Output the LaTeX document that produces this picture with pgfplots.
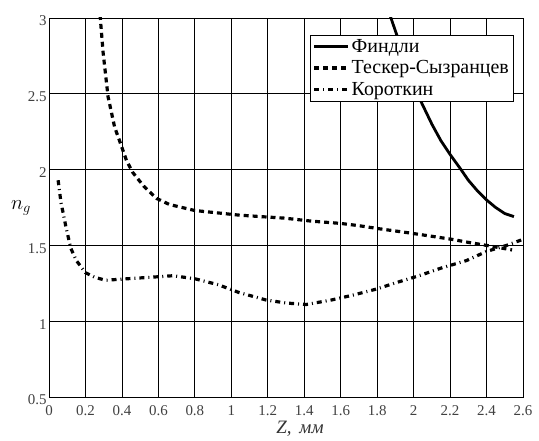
\documentclass[border=0pt]{standalone}
\usepackage{pgfplots}
\pgfplotsset{compat=1.18}
\usepackage{fontspec}
\setmainfont{Liberation Serif}
\begin{document}
\begin{tikzpicture}
\begin{axis}[
  name=ax,
  scale only axis,
  width=474bp, height=379bp,
  xmin=0, xmax=2.6, ymin=0.5, ymax=3,
  xtick={0,0.2,...,2.6},
  ytick={0.5,1,...,3},
  xticklabels={0,0.2,0.4,0.6,0.8,1,1.2,1.4,1.6,1.8,2,2.2,2.4,2.6},
  yticklabels={0.5,1,1.5,2,2.5,3},
  grid=major,
  major grid style={black, line width=0.7pt},
  axis line style={black, line width=0.9pt},
  major tick length=0pt,
  tick label style={font=\fontsize{15}{16}\selectfont, text=black!75},
  /pgf/number format/assume math mode=true,
  xticklabel style={yshift=-5pt},
  yticklabel style={xshift=1pt, yshift=-3pt},
  xlabel={\textit{Z,\, мм}},
  xlabel style={font=\fontsize{19}{20}\selectfont, yshift=1pt, xshift=14pt, text=black!80},
  ylabel={$n_g$},
  ylabel style={rotate=-90, font=\fontsize{20}{21}\selectfont, xshift=10pt},
  legend style={at={(0.979,0.955)}, anchor=north east, draw=black,
    font=\fontsize{20}{22}\selectfont, inner sep=2pt, row sep=3pt,
    legend cell align=left},
  legend image code/.code={\draw[#1] (0cm,0cm) -- (1.2cm,0cm);},
  clip=true,
]
\addplot[black, line width=2.8pt] coordinates {
(1.87,3.02) (1.91,2.88) (1.95,2.75) (2.00,2.58) (2.04,2.45) (2.10,2.30) (2.15,2.19)
(2.20,2.10) (2.26,2.00) (2.30,1.93) (2.35,1.86) (2.40,1.80) (2.45,1.75) (2.50,1.71) (2.55,1.69)
};
\addlegendentry{Финдли}
\addplot[black, line width=3.2pt, dash pattern=on 5pt off 4pt] coordinates {
(0.28,3.02) (0.297,2.77) (0.324,2.48) (0.36,2.28) (0.39,2.18) (0.425,2.06) (0.46,1.98)
(0.52,1.89) (0.59,1.81) (0.66,1.77) (0.73,1.75) (0.80,1.73) (0.92,1.715) (1.04,1.70)
(1.16,1.69) (1.29,1.68) (1.44,1.66) (1.60,1.645) (1.70,1.63) (1.81,1.61) (1.99,1.58)
(2.10,1.56) (2.21,1.54) (2.30,1.52) (2.40,1.50) (2.54,1.47)
};
\addlegendentry{Тескер-Сызранцев}
\addplot[black, line width=3.2pt, dash pattern=on 5pt off 4pt on 1pt off 4pt] coordinates {
(0.05,1.93) (0.066,1.78) (0.08,1.70) (0.093,1.62) (0.12,1.48) (0.15,1.40) (0.20,1.32)
(0.25,1.29) (0.31,1.27) (0.43,1.28) (0.56,1.29) (0.68,1.30) (0.80,1.28) (0.93,1.24)
(1.04,1.19) (1.19,1.14) (1.30,1.12) (1.41,1.11) (1.55,1.14) (1.66,1.17) (1.79,1.21)
(1.92,1.26) (2.03,1.30) (2.15,1.35) (2.29,1.40) (2.40,1.46) (2.51,1.50) (2.60,1.54)
};
\addlegendentry{Короткин}
\end{axis}
\path (ax.south west) ++(-49bp,-38bp);
\path (ax.north east) ++(16bp,18bp);
\end{tikzpicture}
\end{document}
